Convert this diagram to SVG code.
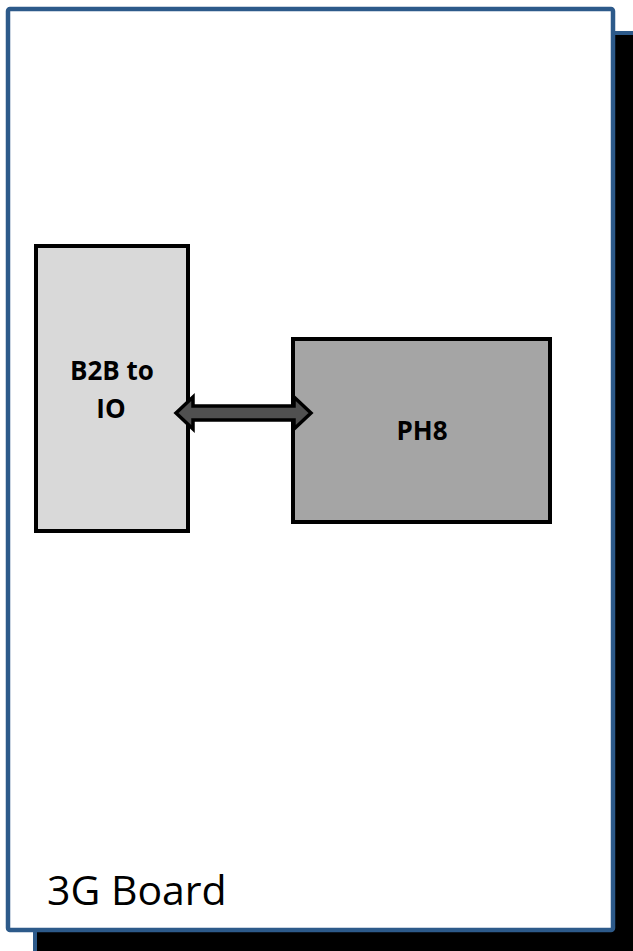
<svg xmlns="http://www.w3.org/2000/svg" width="633" height="951" viewBox="0 0 633 951">
<style>
.box{stroke:#000;stroke-width:4}
.lbl{font-family:"Open Sans","Liberation Sans",sans-serif;font-weight:bold;font-size:26px;fill:#000;text-anchor:middle}
</style>
<rect width="633" height="951" fill="#fff"/>
<g id="shadow">
<rect x="35" y="33" width="610" height="930" fill="#000" stroke="#2d5a8a" stroke-width="4"/>
</g>
<g id="board">
<rect x="8" y="9" width="605" height="921" rx="2" fill="#fff" stroke="#2d5a8a" stroke-width="4.5"/>
<text x="47" y="905" font-family="'Open Sans','Liberation Sans',sans-serif" font-size="41" fill="#000">3G Board</text>
</g>
<g id="b2b">
<rect class="box" x="36" y="246" width="152" height="285" fill="#d9d9d9"/>
<text class="lbl" x="112" y="380">B2B to</text>
<text class="lbl" x="111" y="418">IO</text>
</g>
<g id="ph8">
<rect class="box" x="293" y="339" width="257" height="183" fill="#a5a5a5"/>
<text class="lbl" x="422" y="440">PH8</text>
</g>
<g id="connectors">
<path d="M176,413 L193,397 L193,406 L294,406 L294,397 L311,413 L294,429 L294,420 L193,420 L193,429 Z" fill="#505050" stroke="#000" stroke-width="3.5" stroke-linejoin="miter"/>
</g>
</svg>
